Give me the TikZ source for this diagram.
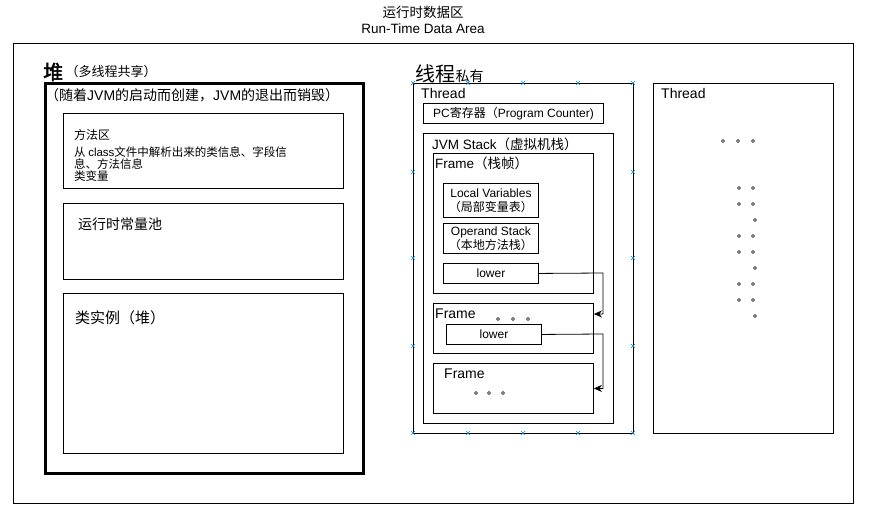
\documentclass[tikz,border=0pt]{standalone}
\usepackage{fontspec}
\setmainfont{Liberation Sans}
\newfontfamily\cjk{Noto Sans CJK SC}
\newfontfamily\cjkbold{Noto Sans CJK SC}[FakeBold=2.5]
\usetikzlibrary{arrows.meta,positioning}

\newcommand{\fs}[1]{\fontsize{#1}{#1}\selectfont}

\tikzset{
  area/.style={draw, line width=0.9pt, anchor=north west, inner sep=0pt},
  heapbox/.style={draw, line width=3pt, anchor=north west, inner sep=0pt},
  lbl/.style={inner sep=0pt, anchor=west},
  flow/.style={draw, line width=0.8pt, -{Stealth[length=8pt,width=7pt,inset=2.5pt]}},
  handle/.style={draw=cyan!70!blue, line width=0.5pt},
  dot/.style={circle, draw, line width=0.6pt, inner sep=0pt, minimum size=3pt}
}

\begin{document}
\begin{tikzpicture}[x=1pt,y=-1pt]
\useasboundingbox (0,0) rectangle (870,518);

% title and outer area
\node[align=center, inner sep=0pt, font=\fontsize{13.5}{16}\selectfont] (title) at (423,20)
  {{\cjk 运行时数据区}\\Run-Time Data Area};
\node[area, minimum width=840pt, minimum height=460pt] (rtda) at (13,43) {};

% heap side
\node[lbl] (heaplbl) at (43,72) {\fs{20}\cjkbold 堆};
\node[lbl, right=2pt of heaplbl] (heapnote) {\fs{13}\cjk （多线程共享）};
\node[heapbox, minimum width=318pt, minimum height=389pt] (heap) at (44,82.5) {};
\node[lbl] (heaplife) at (45,95)
  {\fs{14}{\cjk （随着}JVM{\cjk 的启动而创建，}JVM{\cjk 的退出而销毁）}};

\node[area, minimum width=280pt, minimum height=75pt] (method) at (63,113) {};
\node[lbl, anchor=north west, align=left, font=\fontsize{11.5}{12}\selectfont\cjk]
  (methodtxt) at (74,129)
  {\fs{12}方法区\\[5pt]
   从 {\rmfamily class}文件中解析出来的类信息、字段信\\
   息、方法信息\\ 类变量};

\node[area, minimum width=280pt, minimum height=76pt] (pool) at (63,203) {};
\node[lbl] (pooltxt) at (78,224) {\fs{14}\cjk 运行时常量池};

\node[area, minimum width=280pt, minimum height=160pt] (inst) at (63,293) {};
\node[lbl] (insttxt) at (75,318) {\fs{15}\cjk 类实例（堆）};

% thread (private)
\node[lbl] (thrlbl) at (415,74) {\fs{20}\cjk 线程};
\node[lbl, right=0pt of thrlbl, yshift=-2pt] (thrnote) {\fs{14}\cjk 私有};

\node[area, minimum width=220pt, minimum height=350pt] (thread) at (413,83) {};
\node[lbl] (threadtxt) at (421,94) {\fs{14}Thread};

\node[area, minimum width=180pt, minimum height=20pt] (pc) at (423,103) {};
\node (pctxt) at (pc.center) {\fs{12}PC{\cjk 寄存器（}Program Counter)};

\node[area, minimum width=190pt, minimum height=290pt] (jvmstack) at (423,133) {};
\node[lbl] (stacktxt) at (432,144) {\fs{13.5}JVM Stack{\cjk （虚拟机栈）}};

\node[area, minimum width=160pt, minimum height=140pt] (frame1) at (433,153) {};
\node[lbl] (frame1txt) at (435,163) {\fs{13.5}Frame{\cjk （栈帧）}};

\node[area, minimum width=95pt, minimum height=34pt] (locals) at (443,183) {};
\node[align=center, inner sep=0pt, font=\fontsize{12}{14}\selectfont] (localstxt) at (locals.center)
  {Local Variables\\{\cjk （局部变量表）}};
\node[area, minimum width=95pt, minimum height=30pt] (operand) at (443,223) {};
\node[align=center, inner sep=0pt, font=\fontsize{12}{14}\selectfont] (operandtxt) at (operand.center)
  {Operand Stack\\{\cjk （本地方法栈）}};
\node[area, minimum width=95pt, minimum height=20pt] (lower1) at (443,263) {};
\node (lower1txt) at (lower1.center) {\fs{12}lower};

\node[area, minimum width=160pt, minimum height=50pt] (frame2) at (433,303) {};
\node[lbl] (frame2txt) at (435,314) {\fs{14}Frame};
\node[area, minimum width=95pt, minimum height=20pt] (lower2) at (446,324) {};
\node (lower2txt) at (lower2.center) {\fs{12}lower};

\node[area, minimum width=160pt, minimum height=50pt] (frame3) at (433,363) {};
\node[lbl] (frame3txt) at (444,374) {\fs{14}Frame};

% dots
\foreach \x in {498,513,528} \node[dot] at (\x,319) {};
\foreach \x in {476,489,503} \node[dot] at (\x,393) {};

% call chain
\coordinate (bend1) at (603,273);
\coordinate (bend2) at (603,334);
\draw[flow] (lower1.east) -- (bend1) |- ([yshift=-11pt]frame2.north east);
\draw[flow] (lower2.east) -- (bend2) |- (frame3.east);

% selection handles
\foreach \x in {413,468,523,578,633}{
  \draw[handle] (\x-2,81) -- (\x+2,85) (\x-2,85) -- (\x+2,81);
  \draw[handle] (\x-2,431) -- (\x+2,435) (\x-2,435) -- (\x+2,431);
}
\foreach \y in {172,258,346}{
  \draw[handle] (411,\y-2) -- (415,\y+2) (411,\y+2) -- (415,\y-2);
  \draw[handle] (631,\y-2) -- (635,\y+2) (631,\y+2) -- (635,\y-2);
}

% other thread
\node[area, minimum width=180pt, minimum height=350pt] (thread2) at (653,83) {};
\node[lbl] (thread2txt) at (661,94) {\fs{14}Thread};
\foreach \x in {723,738,753} \node[dot] at (\x,141) {};
\foreach \y in {188,204,236,252,284,300}{
  \node[dot] at (739,\y) {};
  \node[dot] at (753,\y) {};
}
\foreach \y in {220,268,316} \node[dot] at (755,\y) {};
\end{tikzpicture}
\end{document}
